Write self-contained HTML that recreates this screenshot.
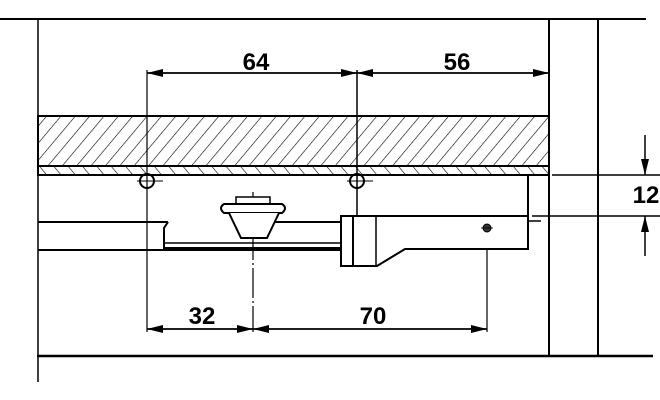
<!DOCTYPE html>
<html><head><style>html,body{margin:0;padding:0;background:#fff}svg{display:block}</style></head><body>
<svg width="660" height="400" viewBox="0 0 660 400" xmlns="http://www.w3.org/2000/svg">
<defs>
<pattern id="h1" patternUnits="userSpaceOnUse" width="11" height="11" patternTransform="rotate(40)"><line x1="0" y1="0" x2="0" y2="11" stroke="#000" stroke-width="1.2"/></pattern>
<pattern id="h2" patternUnits="userSpaceOnUse" width="11" height="11" patternTransform="rotate(-40)"><line x1="0" y1="0" x2="0" y2="11" stroke="#000" stroke-width="1.2"/></pattern>
<marker id="a" markerWidth="16" markerHeight="8" refX="16" refY="4" orient="auto" markerUnits="userSpaceOnUse"><path d="M0,0 L16,4 L0,8 Z" fill="#000"/></marker>
</defs>
<g stroke="#000" fill="none">
<line x1="0" y1="19" x2="646" y2="19" stroke-width="2"/>
<line x1="37" y1="356" x2="653" y2="356" stroke-width="2.5"/>
<line x1="38" y1="19" x2="38" y2="382" stroke-width="1.5"/>
<line x1="549" y1="19" x2="549" y2="356" stroke-width="2"/>
<line x1="598" y1="19" x2="598" y2="356" stroke-width="2"/>
<rect x="38" y="116" width="511" height="50" fill="url(#h1)" stroke-width="2"/>
<rect x="38" y="166" width="511" height="9" fill="url(#h2)" stroke-width="2"/>
<line x1="147" y1="70" x2="147" y2="332" stroke-width="1.2"/>
<line x1="357" y1="70" x2="357" y2="216" stroke-width="1.5"/>
<line x1="253" y1="192" x2="253" y2="332" stroke-width="1.2" stroke-dasharray="30,3,2,3"/>
<line x1="487" y1="228" x2="487" y2="332" stroke-width="1.2"/>
<circle cx="147" cy="181" r="7" stroke-width="2"/>
<circle cx="357" cy="181" r="7" stroke-width="2"/>
<line x1="137" y1="181" x2="163" y2="181"/><line x1="347" y1="181" x2="373" y2="181"/>
<line x1="38" y1="222" x2="168" y2="222" stroke-width="2"/>
<line x1="38" y1="250" x2="163" y2="250" stroke-width="2"/>
<path d="M168,222 L164,228 L164,250 L341,250" stroke-width="2"/>
<line x1="164" y1="243" x2="341" y2="243" stroke-width="1.5"/>
<line x1="164" y1="248" x2="341" y2="248" stroke-width="2"/>
<line x1="270" y1="222" x2="341" y2="222" stroke-width="2"/>
<rect x="236" y="197" width="34" height="7" stroke-width="1.5" fill="#fff"/>
<path d="M224,204 L282,204 Q288,208 282,213 L224,213 Q218,208 224,204 Z" stroke-width="2" fill="#fff"/>
<path d="M229,213 L241,238 L267,238 L279,213" stroke-width="2" fill="#fff"/>
<path d="M341,216 L528,216 L528,249 L405,249 L377,266 L341,266 Z" stroke-width="2" fill="#fff"/>
<line x1="353" y1="216" x2="353" y2="266" stroke-width="2"/>
<line x1="376" y1="216" x2="376" y2="266" stroke-width="1.5"/>
<line x1="528" y1="176" x2="528" y2="216" stroke-width="2"/>
<line x1="528" y1="221" x2="541" y2="221" stroke-width="1.5"/>
<circle cx="487" cy="228" r="4" fill="#333" stroke-width="1"/>
<line x1="481" y1="228" x2="493" y2="228" stroke-width="0.8"/>
<line x1="552" y1="175" x2="660" y2="175" stroke-width="1.5"/>
<line x1="532" y1="216" x2="660" y2="216" stroke-width="1.5"/>
<line x1="147" y1="73" x2="357" y2="73" stroke-width="1.5" marker-end="url(#a)"/>
<line x1="357" y1="73" x2="147" y2="73" stroke-width="1.5" marker-end="url(#a)"/>
<line x1="357" y1="73" x2="549" y2="73" stroke-width="1.5" marker-end="url(#a)"/>
<line x1="549" y1="73" x2="357" y2="73" stroke-width="1.5" marker-end="url(#a)"/>
<line x1="147" y1="329" x2="253" y2="329" stroke-width="1.5" marker-end="url(#a)"/>
<line x1="253" y1="329" x2="147" y2="329" stroke-width="1.5" marker-end="url(#a)"/>
<line x1="253" y1="329" x2="487" y2="329" stroke-width="1.5" marker-end="url(#a)"/>
<line x1="487" y1="329" x2="253" y2="329" stroke-width="1.5" marker-end="url(#a)"/>
<line x1="645" y1="135" x2="645" y2="175" stroke-width="1.5" marker-end="url(#a)"/>
<line x1="645" y1="256" x2="645" y2="216" stroke-width="1.5" marker-end="url(#a)"/>
</g>
<g font-family="Liberation Sans, sans-serif" font-weight="bold" font-size="24" text-anchor="middle" fill="#000">
<text x="256" y="70">64</text>
<text x="457" y="70">56</text>
<text x="202" y="324">32</text>
<text x="373" y="324">70</text>
<text x="646" y="203">12</text>
</g>
</svg>
</body></html>
